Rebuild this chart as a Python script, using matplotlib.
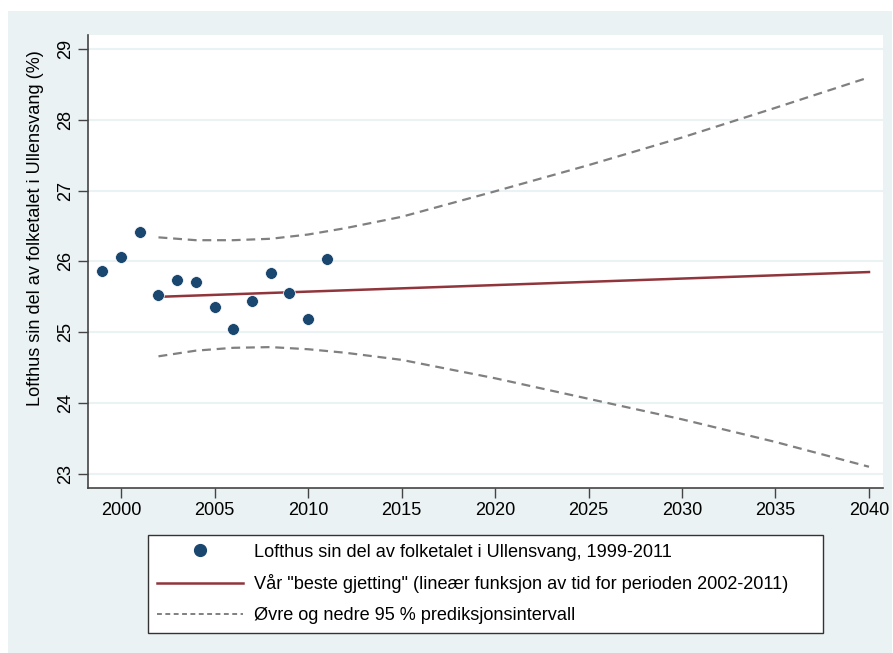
import matplotlib
matplotlib.use("Agg")
import matplotlib.pyplot as plt
from matplotlib.patches import Rectangle
from matplotlib.lines import Line2D

# ---------------- data ----------------
years = [1999, 2000, 2001, 2002, 2003, 2004, 2005, 2006, 2007, 2008, 2009, 2010, 2011]
share = [25.87, 26.06, 26.42, 25.53, 25.74, 25.71, 25.36, 25.05, 25.44, 25.83, 25.55, 25.19, 26.03]

fit_years = [2002, 2040]
fit_vals = [25.50, 25.85]

band_years = [2002, 2004, 2006, 2008, 2010, 2012, 2015, 2020, 2025, 2030, 2035, 2040]
upper = [26.34, 26.30, 26.30, 26.32, 26.38, 26.47, 26.63, 26.99, 27.36, 27.75, 28.17, 28.60]
lower = [24.66, 24.74, 24.78, 24.79, 24.76, 24.71, 24.61, 24.35, 24.06, 23.77, 23.45, 23.10]

xticks = list(range(2000, 2041, 5))
yticks = [23, 24, 25, 26, 27, 28, 29]

labels = ["Lofthus sin del av folketalet i Ullensvang, 1999-2011",
          'Vår "beste gjetting" (lineær funksjon av tid for perioden 2002-2011)',
          "Øvre og nedre 95 % prediksjonsintervall"]
ylabel = "Lofthus sin del av folketalet i Ullensvang (%)"
# -----------------------------------------------------------

BG = "#EAF2F3"
NAVY = "#1A476F"
MAROON = "#90353B"
GREY = "#808080"
AXC = "#444444"
FS = 13.1

plt.rcParams["font.family"] = ["Liberation Sans", "DejaVu Sans"]

W, H = 893, 653
fig = plt.figure(figsize=(W / 100, H / 100), dpi=100)
fig.patches.append(Rectangle((8 / W, 0), 884 / W, 1 - 11 / H,
                             transform=fig.transFigure, facecolor=BG,
                             edgecolor="none", zorder=-10))

ax = fig.add_axes([88 / W, 1 - 488 / H, 795 / W, 453 / H])
ax.set_facecolor("white")
ax.set_xlim(1998.23, 2040.75)
ax.set_ylim(22.80, 29.198)

for y in yticks:
    ax.axhline(y, color=BG, lw=1.5, zorder=1)

ax.plot(band_years, upper, color=GREY, lw=1.6, ls=(0, (4, 2.6)), zorder=2)
ax.plot(band_years, lower, color=GREY, lw=1.6, ls=(0, (4, 2.6)), zorder=2)
ax.plot(fit_years, fit_vals, color=MAROON, lw=1.8, zorder=3)
ax.plot(years, share, "o", color=NAVY, ms=8.5, mec="white", mew=0.5, zorder=4)

for s in ["top", "right"]:
    ax.spines[s].set_visible(False)
for s in ["left", "bottom"]:
    ax.spines[s].set_color(AXC)
    ax.spines[s].set_linewidth(1.2)

ax.set_xticks(xticks)
ax.set_yticks(yticks)
ax.tick_params(axis="both", colors="black", labelsize=FS, length=7,
               width=1.0, color=AXC, pad=3)
for t in ax.get_yticklabels():
    t.set_rotation(90)
    t.set_va("center")

ax.text(-0.066, 0.574, ylabel, transform=ax.transAxes, rotation=90,
        ha="center", va="center", fontsize=FS)

handles = [
    Line2D([], [], ls="none", marker="o", color=NAVY, ms=8.5),
    Line2D([], [], color=MAROON, lw=1.8),
    Line2D([], [], color=GREY, lw=1.4, ls=(0, (2.5, 1.8))),
]
leg = fig.legend(handles, labels, loc="lower left",
                 bbox_to_anchor=(148 / W, 1 - 633 / H, 675 / W, 102 / H),
                 mode="expand", fontsize=FS, frameon=True, fancybox=False,
                 framealpha=1, edgecolor="#333333", handlelength=4.7,
                 handletextpad=0.6, labelspacing=0.75, borderpad=0.5,
                 borderaxespad=0)
leg.get_frame().set_linewidth(1.0)

fig.savefig("out.png", dpi=100)
